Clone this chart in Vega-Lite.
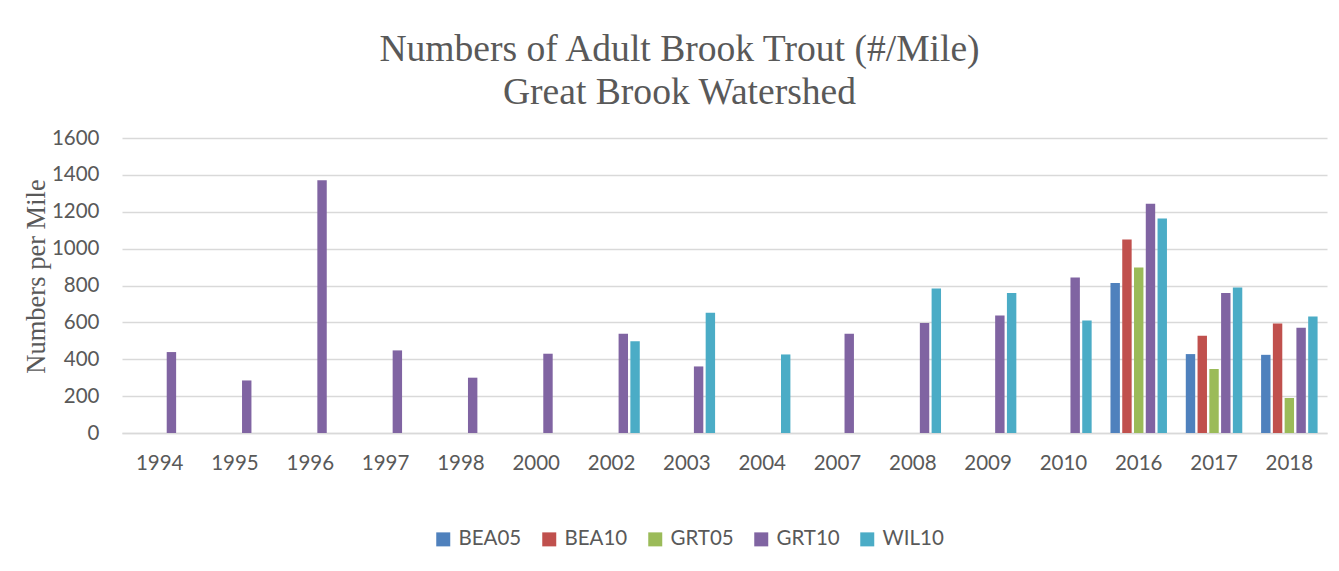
{
  "$schema": "https://vega.github.io/schema/vega-lite/v6.json",
  "autosize": {"type": "none"},
  "padding": {"left": 122, "top": 138, "right": 12, "bottom": 138},
  "width": 1205,
  "height": 295,
  "background": "white",
  "title": {
    "text": ["Numbers of Adult Brook Trout (#/Mile)", "Great Brook Watershed"],
    "font": "Liberation Serif",
    "fontSize": 37.6,
    "fontWeight": "normal",
    "color": "#595959",
    "anchor": "middle",
    "dx": -45,
    "offset": 16,
    "lineHeight": 43
  },
  "data": {
    "values": [
      {"year": "1994", "site": "GRT10", "value": 439},
      {"year": "1995", "site": "GRT10", "value": 285},
      {"year": "1996", "site": "GRT10", "value": 1371},
      {"year": "1997", "site": "GRT10", "value": 448},
      {"year": "1998", "site": "GRT10", "value": 300},
      {"year": "2000", "site": "GRT10", "value": 430},
      {"year": "2002", "site": "GRT10", "value": 538},
      {"year": "2002", "site": "WIL10", "value": 497},
      {"year": "2003", "site": "GRT10", "value": 361},
      {"year": "2003", "site": "WIL10", "value": 652},
      {"year": "2004", "site": "WIL10", "value": 426},
      {"year": "2007", "site": "GRT10", "value": 538},
      {"year": "2008", "site": "GRT10", "value": 596},
      {"year": "2008", "site": "WIL10", "value": 784},
      {"year": "2009", "site": "GRT10", "value": 637},
      {"year": "2009", "site": "WIL10", "value": 760},
      {"year": "2010", "site": "GRT10", "value": 843},
      {"year": "2010", "site": "WIL10", "value": 610},
      {"year": "2016", "site": "BEA05", "value": 814},
      {"year": "2016", "site": "BEA10", "value": 1049},
      {"year": "2016", "site": "GRT05", "value": 897},
      {"year": "2016", "site": "GRT10", "value": 1244},
      {"year": "2016", "site": "WIL10", "value": 1163},
      {"year": "2017", "site": "BEA05", "value": 428},
      {"year": "2017", "site": "BEA10", "value": 527},
      {"year": "2017", "site": "GRT05", "value": 347},
      {"year": "2017", "site": "GRT10", "value": 760},
      {"year": "2017", "site": "WIL10", "value": 789},
      {"year": "2018", "site": "BEA05", "value": 424},
      {"year": "2018", "site": "BEA10", "value": 594},
      {"year": "2018", "site": "GRT05", "value": 190},
      {"year": "2018", "site": "GRT10", "value": 571},
      {"year": "2018", "site": "WIL10", "value": 632}
    ]
  },
  "mark": {"type": "bar"},
  "encoding": {
    "x": {
      "field": "year",
      "type": "nominal",
      "sort": ["1994","1995","1996","1997","1998","2000","2002","2003","2004","2007","2008","2009","2010","2016","2017","2018"],
      "scale": {"paddingInner": 0.25, "paddingOuter": 0.125},
      "axis": {
        "title": null,
        "labelAngle": 0,
        "labelFont": "Lato",
        "labelFontSize": 20.5,
        "labelColor": "#595959",
        "labelPadding": 20,
        "ticks": false,
        "domainColor": "#d9d9d9",
        "domainWidth": 1.5
      }
    },
    "xOffset": {
      "field": "site",
      "type": "nominal",
      "scale": {"domain": ["BEA05","BEA10","GRT05","GRT10","WIL10"], "paddingInner": 0.2, "paddingOuter": 0}
    },
    "y": {
      "field": "value",
      "type": "quantitative",
      "scale": {"domain": [0, 1600], "nice": false},
      "axis": {
        "title": "Numbers per Mile",
        "titleFont": "Liberation Serif",
        "titleFontSize": 26.5,
        "titleFontWeight": "normal",
        "titleColor": "#595959",
        "titlePadding": 1,
        "titleY": 138,
        "values": [0,200,400,600,800,1000,1200,1400,1600],
        "format": "d",
        "labelFont": "Lato",
        "labelFontSize": 20.5,
        "labelColor": "#595959",
        "labelPadding": 23,
        "ticks": false,
        "domain": false,
        "gridColor": "#d9d9d9",
        "gridWidth": 1.5
      }
    },
    "color": {
      "field": "site",
      "type": "nominal",
      "scale": {
        "domain": ["BEA05","BEA10","GRT05","GRT10","WIL10"],
        "range": ["#4F81BD","#C0504D","#9BBB59","#8064A2","#4BACC6"]
      },
      "legend": {
        "title": null,
        "orient": "none",
        "direction": "horizontal",
        "legendX": 311,
        "legendY": 391,
        "symbolType": "square",
        "symbolSize": 196,
        "symbolStrokeWidth": 0,
        "labelFont": "Lato",
        "labelFontSize": 20.5,
        "labelColor": "#595959",
        "labelOffset": 5,
        "columnPadding": 17
      }
    }
  },
  "config": {
    "view": {"stroke": null}
  }
}
